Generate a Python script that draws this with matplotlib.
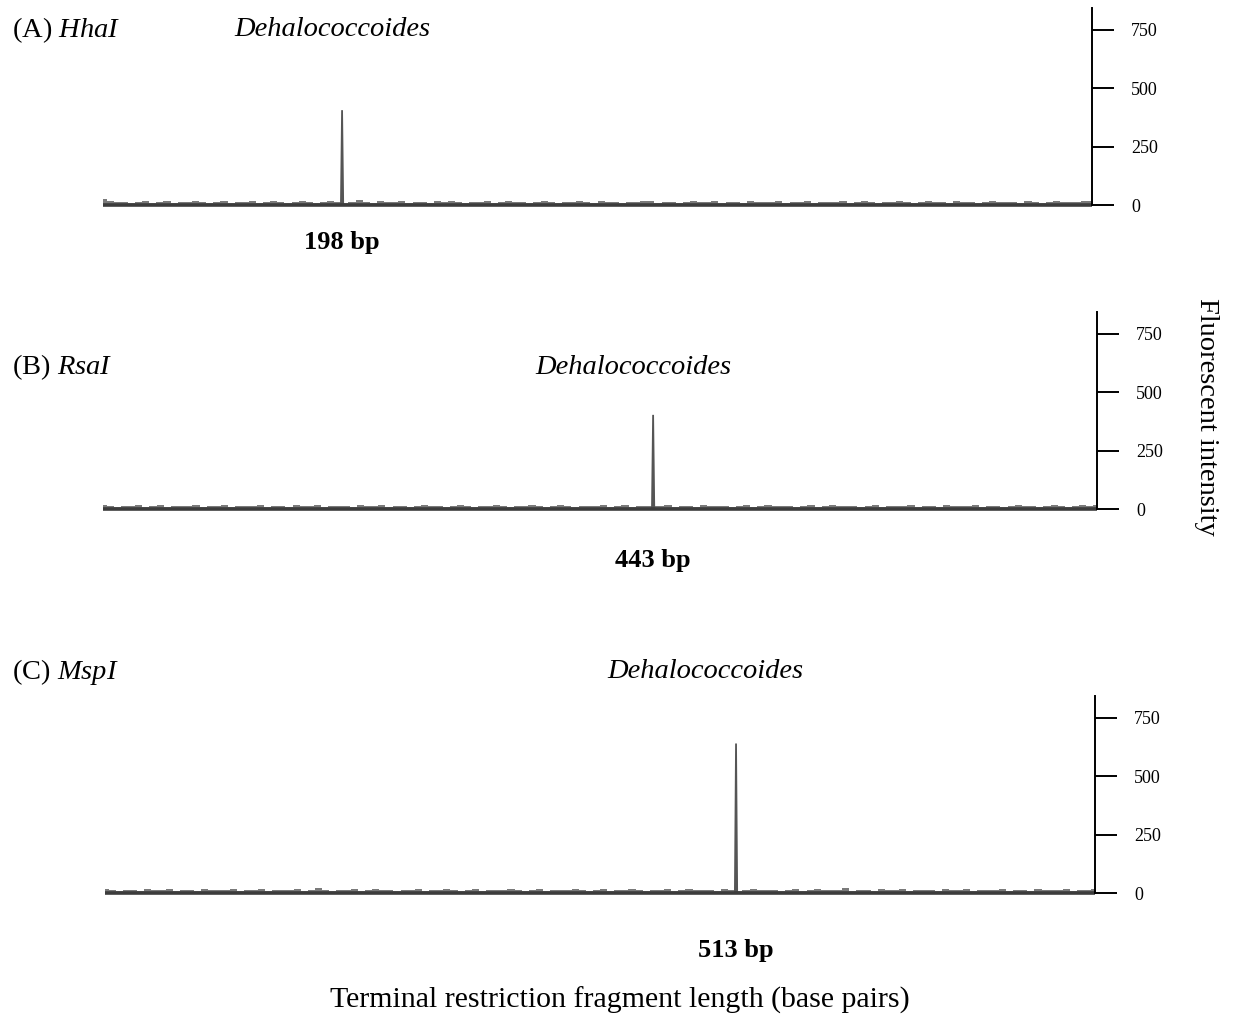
import matplotlib
matplotlib.use("Agg")
import matplotlib.pyplot as plt
import numpy as np

plt.rcParams['font.family'] = ['Liberation Serif', 'DejaVu Serif']
plt.rcParams['mathtext.fontset'] = 'custom'
plt.rcParams['mathtext.rm'] = 'Liberation Serif'
plt.rcParams['mathtext.it'] = 'Liberation Serif:italic'

W, H = 1236, 1027

# ---- data ----
enzymes = ["HhaI", "RsaI", "MspI"]
panel_tags = ["(A)", "(B)", "(C)"]
organism = "Dehalococcoides"
peak_bp = [198, 443, 513]
peak_height = [406, 403, 640]
peak_labels = ["198 bp", "443 bp", "513 bp"]
y_ticks = [0, 250, 500, 750]
x_start = [8, 8, 12]
x_end = [794, 794, 798]

noise_a = [24, 16, 11, 14, 9, 13, 17, 10, 12, 15, 8, 14, 11, 16, 12, 9, 13, 18, 10, 14,
           12, 15, 9, 11, 16, 13, 10, 14, 17, 11, 9, 13, 15, 12, 10, 14, 21, 12, 9, 15,
           13, 11, 16, 10, 14, 12, 9, 15, 13, 17, 11, 10, 14, 12, 16, 9, 13, 15, 11, 14,
           10, 13, 16, 12, 9, 14, 11, 15, 13, 10, 16, 12, 14, 9, 13, 11, 15, 17, 10, 12,
           14, 9, 13, 16, 11, 12, 15, 10, 14, 13, 9, 16, 12, 11, 14, 15, 10, 13, 12, 16,
           9, 14, 11, 13, 15, 10, 12, 16, 14, 9, 13, 11, 15, 12, 10, 14, 16, 11, 13, 9,
           15, 12, 14, 10, 13, 16, 11, 12, 14, 9, 15, 13, 10, 12, 16, 11, 14, 13, 15, 18]
noise_b = [15, 12, 9, 14, 11, 16, 10, 13, 15, 9, 12, 14, 11, 17, 10, 13, 12, 15, 9, 14,
           11, 13, 16, 10, 12, 14, 9, 15, 13, 11, 16, 10, 12, 14, 13, 9, 15, 11, 12, 16,
           10, 14, 13, 9, 12, 15, 11, 14, 10, 13, 16, 12, 9, 14, 11, 15, 13, 10, 12, 14,
           16, 11, 9, 13, 15, 12, 10, 14, 11, 13, 16, 9, 12, 15, 10, 14, 13, 11, 12, 16,
           9, 14, 12, 10, 15, 13, 11, 14, 9, 12, 16, 10, 13, 15, 11, 12, 14, 9, 13, 16,
           10, 12, 15, 11, 14, 13, 9, 12, 16, 10, 14, 11, 13, 15, 9, 12, 14, 10, 16, 13,
           11, 12, 15, 9, 14, 13, 10, 12, 16, 11, 14, 9, 13, 15, 12, 10, 14, 16, 13, 15]
noise_c = [16, 12, 10, 14, 13, 9, 15, 11, 13, 16, 10, 12, 14, 9, 15, 12, 11, 14, 16, 10,
           13, 12, 15, 9, 14, 11, 13, 16, 10, 12, 22, 11, 9, 14, 13, 15, 10, 12, 16, 11,
           14, 9, 13, 12, 15, 10, 14, 11, 16, 12, 9, 13, 15, 10, 12, 14, 11, 16, 13, 9,
           12, 15, 10, 14, 13, 11, 16, 12, 9, 14, 15, 10, 13, 12, 16, 11, 9, 14, 12, 15,
           10, 13, 16, 11, 12, 14, 9, 15, 13, 10, 12, 16, 11, 14, 13, 9, 12, 15, 10, 14,
           16, 12, 11, 13, 20, 10, 14, 12, 9, 15, 13, 11, 16, 10, 12, 14, 13, 9, 15, 11,
           12, 16, 10, 14, 13, 11, 15, 9, 12, 14, 10, 16, 13, 11, 12, 15, 9, 14, 13, 16]
noises = [noise_a, noise_b, noise_c]

# ---- layout (pixel geometry) ----
ax_left = [103, 103, 105]
ax_right = [1092, 1097, 1095]
zero_y = [205, 509, 893]
px_per_250 = 58.4
y_top = 845
y_bot = -15

title_y = [30, 367, 672]
org_x = [332, 633, 705]
label_y = [242, 560, 950]

fig = plt.figure(figsize=(W / 100, H / 100), dpi=100)
noise_color = "#7a7a7a"
trace_color = "#555555"

for i in range(3):
    top_px = zero_y[i] - y_top / 250 * px_per_250
    bot_px = zero_y[i] - y_bot / 250 * px_per_250
    ax = fig.add_axes([ax_left[i] / W, 1 - bot_px / H,
                       (ax_right[i] - ax_left[i]) / W, (bot_px - top_px) / H])
    ax.set_xlim(x_start[i], x_end[i])
    ax.set_ylim(y_bot, y_top)
    n = noises[i]
    xs = np.linspace(x_start[i], x_end[i], len(n))
    ax.fill_between(xs, -3, n, step='mid', color=noise_color, lw=0)
    ax.plot([x_start[i], x_end[i]], [0, 0], color="#3c3c3c", lw=2.6, solid_capstyle='butt')
    p = peak_bp[i]
    ax.fill([p - 0.9, p, p + 0.9], [0, peak_height[i], 0], color=trace_color, lw=1.3,
            edgecolor=trace_color)
    for s in ['top', 'left', 'bottom']:
        ax.spines[s].set_visible(False)
    ax.spines['right'].set_linewidth(1.4)
    ax.spines['right'].set_bounds(0, y_top)
    ax.yaxis.tick_right()
    ax.set_yticks(y_ticks)
    ax.set_yticklabels([str(t) for t in y_ticks])
    ax.tick_params(axis='y', direction='out', length=16, width=1.4, labelsize=13, pad=12)
    ax.set_xticks([])
    ax.patch.set_alpha(0)

    fig.text(12 / W, 1 - title_y[i] / H, panel_tags[i] + " $\\mathit{" + enzymes[i] + "}$",
             fontsize=20.5, ha='left', va='center')
    fig.text(org_x[i] / W, 1 - title_y[i] / H, organism, fontsize=20.5, style='italic',
             ha='center', va='center')
    xfrac = (p - x_start[i]) / (x_end[i] - x_start[i])
    cx = ax_left[i] + xfrac * (ax_right[i] - ax_left[i])
    fig.text(cx / W, 1 - label_y[i] / H, peak_labels[i], fontsize=19, weight='bold',
             ha='center', va='center')

fig.text(1207 / W, 1 - 417 / H, "Fluorescent intensity", fontsize=20.5, rotation=270,
         ha='center', va='center')
fig.text(620 / W, 1 - 1000 / H, "Terminal restriction fragment length (base pairs)",
         fontsize=21.5, ha='center', va='center')

fig.savefig("out.png", dpi=100)
